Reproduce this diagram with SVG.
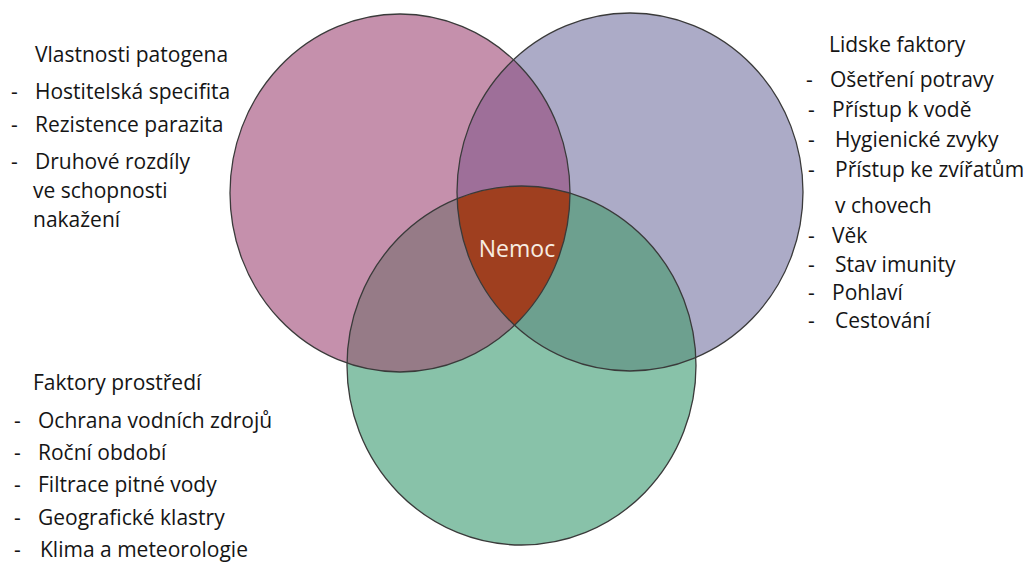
<svg xmlns="http://www.w3.org/2000/svg" width="1030" height="574" viewBox="0 0 1030 574">
<style>
.t{font-family:"Open Sans","Liberation Sans",sans-serif;font-size:21px;fill:#151515}
.outline{fill:none;stroke:#3a3a3a;stroke-width:1.3}
.nemoc{font-family:"Open Sans","Liberation Sans",sans-serif;font-size:23px;fill:#f7ede2;text-anchor:middle}
</style>
<defs>
<clipPath id="cPink"><ellipse cx="400" cy="193" rx="170" ry="179"/></clipPath>
<clipPath id="cPurple"><ellipse cx="630" cy="192" rx="173" ry="179"/></clipPath>
</defs>
<rect width="1030" height="574" fill="#ffffff"/>
<g id="pathogen">
<ellipse cx="400" cy="193" rx="170" ry="179" fill="#c590ac"/>
</g>
<g id="human">
<ellipse cx="630" cy="192" rx="173" ry="179" fill="#acabc7"/>
</g>
<g id="environment">
<ellipse cx="521.5" cy="365.5" rx="174.5" ry="179.5" fill="#88c2a9"/>
</g>
<g id="overlaps">
<ellipse cx="630" cy="192" rx="173" ry="179" fill="#9e6f99" clip-path="url(#cPink)"/>
<ellipse cx="521.5" cy="365.5" rx="174.5" ry="179.5" fill="#967b87" clip-path="url(#cPink)"/>
<ellipse cx="521.5" cy="365.5" rx="174.5" ry="179.5" fill="#6da08f" clip-path="url(#cPurple)"/>
</g>
<g id="nemoc">
<g clip-path="url(#cPink)"><ellipse cx="521.5" cy="365.5" rx="174.5" ry="179.5" fill="#9f3f1f" clip-path="url(#cPurple)"/></g>
</g>
<g id="outlines">
<ellipse class="outline" cx="400" cy="193" rx="170" ry="179"/>
<ellipse class="outline" cx="630" cy="192" rx="173" ry="179"/>
<ellipse class="outline" cx="521.5" cy="365.5" rx="174.5" ry="179.5"/>
</g>
<text class="nemoc" x="517" y="257">Nemoc</text>
<g id="connectors"/>
<g id="label-pathogen">
<text class="t" x="35" y="62">Vlastnosti patogena</text>
<text class="t" x="11" y="99">-</text><text class="t" x="35" y="99">Hostitelská specifita</text>
<text class="t" x="11" y="132">-</text><text class="t" x="35" y="132">Rezistence parazita</text>
<text class="t" x="11" y="169">-</text><text class="t" x="35" y="169">Druhové rozdíly</text>
<text class="t" x="33" y="198">ve schopnosti</text>
<text class="t" x="33" y="227">nakažení</text>
</g>
<g id="label-human">
<text class="t" x="829" y="52">Lidske faktory</text>
<text class="t" x="806" y="87">-</text><text class="t" x="830" y="87">Ošetření potravy</text>
<text class="t" x="808" y="117">-</text><text class="t" x="832" y="117">Přístup k vodě</text>
<text class="t" x="808" y="147">-</text><text class="t" x="835" y="147">Hygienické zvyky</text>
<text class="t" x="808" y="177">-</text><text class="t" x="835" y="177">Přístup ke zvířatům</text>
<text class="t" x="835" y="213">v chovech</text>
<text class="t" x="808" y="243">-</text><text class="t" x="832" y="243">Věk</text>
<text class="t" x="808" y="272">-</text><text class="t" x="835" y="272">Stav imunity</text>
<text class="t" x="808" y="300">-</text><text class="t" x="832" y="300">Pohlaví</text>
<text class="t" x="808" y="328">-</text><text class="t" x="835" y="328">Cestování</text>
</g>
<g id="label-environment">
<text class="t" x="33" y="390">Faktory prostředí</text>
<text class="t" x="14" y="428">-</text><text class="t" x="38" y="428">Ochrana vodních zdrojů</text>
<text class="t" x="14" y="460">-</text><text class="t" x="38" y="460">Roční období</text>
<text class="t" x="14" y="492">-</text><text class="t" x="38" y="492">Filtrace pitné vody</text>
<text class="t" x="14" y="525">-</text><text class="t" x="38" y="525">Geografické klastry</text>
<text class="t" x="14" y="557">-</text><text class="t" x="40" y="557">Klima a meteorologie</text>
</g>
</svg>
